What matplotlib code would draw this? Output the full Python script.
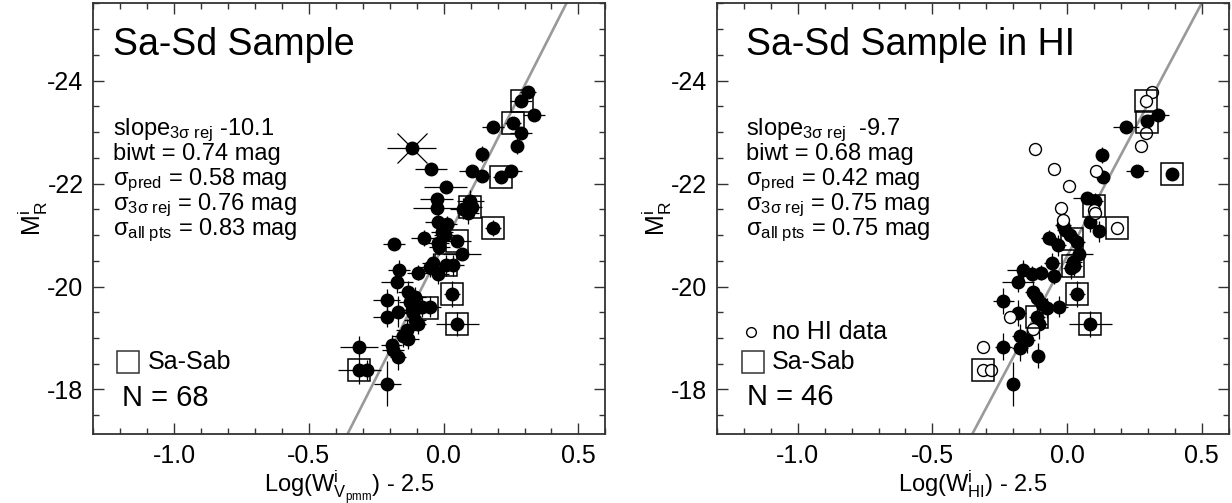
import numpy as np
import matplotlib
matplotlib.use("Agg")
import matplotlib.pyplot as plt
from matplotlib.ticker import MultipleLocator

plt.rcParams['font.family'] = ['Liberation Sans', 'DejaVu Sans']
plt.rcParams['mathtext.fontset'] = 'custom'
plt.rcParams['mathtext.rm'] = 'Liberation Sans'
plt.rcParams['mathtext.it'] = 'Liberation Sans:italic'
plt.rcParams['mathtext.bf'] = 'Liberation Sans:bold'

# ─── Left panel: Sa-Sd sample, optical widths ───────────────────────────────
L_X = [0.312, 0.287, 0.336, 0.258, 0.184, 0.287, 0.273, -0.119, 0.141, -0.047,
       0.106, 0.143, 0.250, 0.214, 0.008, -0.026, -0.024, 0.098, 0.104, 0.091,
       0.073, -0.020, 0.011, -0.007, 0.005, 0.184, -0.184, -0.072, 0.051, -0.020,
       -0.016, 0.069, -0.039, -0.051, 0.008, 0.036, -0.020, -0.096, -0.165, -0.174,
       0.030, -0.131, -0.106, -0.125, -0.211, -0.082, -0.051, -0.119, -0.113, -0.168,
       -0.211, -0.106, -0.094, 0.051, -0.137, -0.150, -0.131, -0.193, -0.187, -0.168,
       -0.313, -0.313, -0.286, -0.209]
L_Y = [-23.77, -23.61, -23.34, -23.18, -23.09, -22.99, -22.73, -22.69, -22.57, -22.29,
       -22.24, -22.14, -22.24, -22.13, -21.93, -21.69, -21.53, -21.67, -21.54, -21.42,
       -21.51, -21.25, -21.22, -21.06, -21.00, -21.14, -20.82, -20.94, -20.88, -20.84,
       -20.77, -20.64, -20.45, -20.38, -20.41, -20.41, -20.25, -20.27, -20.32, -20.08,
       -19.85, -19.90, -19.80, -19.70, -19.74, -19.61, -19.61, -19.54, -19.48, -19.51,
       -19.41, -19.35, -19.28, -19.27, -19.16, -19.03, -18.98, -18.86, -18.77, -18.64,
       -18.83, -18.37, -18.38, -18.11]
L_XERR = [0.03, 0.04, 0.04, 0.03, 0.04, 0.04, 0.02, 0.09, 0.02, 0.06,
          0.05, 0.03, 0.04, 0.03, 0.08, 0.06, 0.09, 0.05, 0.04, 0.04,
          0.05, 0.05, 0.04, 0.04, 0.04, 0.03, 0.04, 0.05, 0.05, 0.04,
          0.04, 0.07, 0.04, 0.04, 0.04, 0.04, 0.04, 0.04, 0.04, 0.06,
          0.03, 0.04, 0.04, 0.04, 0.05, 0.04, 0.04, 0.04, 0.04, 0.04,
          0.05, 0.04, 0.03, 0.08, 0.04, 0.04, 0.04, 0.04, 0.04, 0.03,
          0.07, 0.08, 0.04, 0.05]
L_YERR = [0.10, 0.10, 0.10, 0.10, 0.10, 0.10, 0.15, 0.05, 0.15, 0.10,
          0.10, 0.10, 0.10, 0.10, 0.10, 0.10, 0.10, 0.20, 0.20, 0.20,
          0.20, 0.15, 0.15, 0.15, 0.15, 0.15, 0.10, 0.15, 0.10, 0.15,
          0.15, 0.10, 0.20, 0.20, 0.20, 0.20, 0.20, 0.15, 0.20, 0.20,
          0.25, 0.20, 0.20, 0.20, 0.22, 0.20, 0.20, 0.20, 0.20, 0.30,
          0.20, 0.20, 0.20, 0.23, 0.20, 0.20, 0.20, 0.20, 0.20, 0.26,
          0.20, 0.27, 0.20, 0.44]
L_STAR = (-0.119, -22.69)          # flagged outlier
L_BOX_X = [0.290, 0.258, 0.214, 0.098, 0.184, 0.051, 0.008, 0.030, -0.063, 0.051, -0.313]
L_BOX_Y = [-23.61, -23.18, -22.13, -21.54, -21.14, -20.88, -20.41, -19.85, -19.58, -19.27, -18.37]
L_FIT = (-20.81, -10.3)            # zero point, slope of drawn line
L_STATS = ["slope$_{\\rm 3σ\\ rej}$ -10.1", "biwt = 0.74 mag", "σ$_{\\rm pred}$ = 0.58 mag",
           "σ$_{\\rm 3σ\\ rej}$ = 0.76 mag", "σ$_{\\rm all\\ pts}$ = 0.83 mag"]

# ─── Right panel: Sa-Sd sample in HI ────────────────────────────────────────
R_X = [0.337, 0.296, 0.219, 0.131, 0.259, 0.133, 0.390, 0.073, 0.104, 0.086,
       -0.014, 0.118, -0.067, -0.034, 0.011, 0.036, 0.045, -0.057, 0.014, 0.026,
       -0.164, -0.131, -0.098, -0.047, -0.181, 0.036, -0.127, -0.112, -0.094, -0.075,
       -0.028, -0.236, -0.181, -0.112, -0.103, 0.086, -0.174, -0.150, -0.174, -0.236,
       -0.106, -0.202, -0.007, 0.024]
R_Y = [-23.34, -23.21, -23.09, -22.55, -22.24, -22.13, -22.18, -21.72, -21.67, -21.25,
       -21.19, -21.07, -20.95, -20.80, -21.00, -20.87, -20.63, -20.45, -20.35, -20.40,
       -20.32, -20.25, -20.27, -20.20, -20.09, -19.85, -19.90, -19.77, -19.67, -19.58,
       -19.61, -19.72, -19.49, -19.41, -19.28, -19.27, -19.03, -18.96, -18.81, -18.83,
       -18.66, -18.11, -21.09, -20.48]
R_XERR = [0.04, 0.02, 0.05, 0.02, 0.04, 0.02, 0.02, 0.05, 0.03, 0.02,
          0.03, 0.02, 0.03, 0.03, 0.03, 0.03, 0.05, 0.03, 0.03, 0.03,
          0.06, 0.03, 0.03, 0.03, 0.06, 0.03, 0.03, 0.03, 0.03, 0.03,
          0.03, 0.04, 0.03, 0.03, 0.03, 0.08, 0.03, 0.03, 0.03, 0.03,
          0.02, 0.02, 0.03, 0.03]
R_YERR = [0.10, 0.10, 0.10, 0.15, 0.10, 0.10, 0.10, 0.10, 0.15, 0.20,
          0.15, 0.20, 0.15, 0.20, 0.15, 0.15, 0.20, 0.20, 0.20, 0.20,
          0.20, 0.15, 0.15, 0.15, 0.20, 0.25, 0.20, 0.20, 0.20, 0.20,
          0.20, 0.25, 0.25, 0.25, 0.30, 0.26, 0.25, 0.25, 0.25, 0.26,
          0.25, 0.43, 0.15, 0.20]
R_OPEN_X = [0.315, 0.292, 0.292, 0.274, -0.119, -0.047, 0.108, 0.009, -0.022, 0.102,
            0.104, -0.016, 0.185, -0.212, -0.127, -0.313, -0.313, -0.283]
R_OPEN_Y = [-23.77, -23.61, -22.98, -22.73, -22.68, -22.29, -22.24, -21.95, -21.53, -21.49,
            -21.42, -21.29, -21.13, -19.41, -19.17, -18.83, -18.37, -18.38]
R_BOX_X = [0.292, 0.296, 0.390, 0.100, 0.185, 0.020, 0.024, 0.036, -0.112, 0.086, -0.313]
R_BOX_Y = [-23.61, -23.20, -22.18, -21.56, -21.13, -20.93, -20.40, -19.85, -19.41, -19.27, -18.37]
R_FIT = (-20.59, -9.82)
R_STATS = ["slope$_{\\rm 3σ\\ rej}$  -9.7", "biwt = 0.68 mag", "σ$_{\\rm pred}$ = 0.42 mag",
           "σ$_{\\rm 3σ\\ rej}$ = 0.75 mag", "σ$_{\\rm all\\ pts}$ = 0.75 mag"]

XLIM = (-1.3, 0.6)
YLIM = (-17.13, -25.5)
FRAME = "#333333"
LINE_GRAY = "#999999"


def style_axes(ax, xlabel):
    ax.set_xlim(*XLIM)
    ax.set_ylim(*YLIM)
    ax.xaxis.set_minor_locator(MultipleLocator(0.1))
    ax.yaxis.set_minor_locator(MultipleLocator(0.5))
    ax.set_yticks([-24, -22, -20, -18])
    ax.set_yticklabels(["-24", "-22", "-20", "-18"])
    ax.set_xticks([-1.0, -0.5, 0.0, 0.5])
    ax.set_xticklabels(["-1.0", "-0.5", "0.0", "0.5"])
    ax.tick_params(which="both", direction="in", top=True, right=True,
                   labelsize=18, color=FRAME, width=1.0)
    ax.tick_params(axis="x", pad=7)
    ax.tick_params(axis="y", pad=7)
    ax.tick_params(which="major", length=8)
    ax.tick_params(which="minor", length=4.5)
    for sp in ax.spines.values():
        sp.set_color(FRAME)
        sp.set_linewidth(1.3)
    ax.set_xlabel(xlabel, fontsize=17, labelpad=0)
    ax.set_ylabel("M$_{\\rm R}^{\\rm i}$", fontsize=18, labelpad=-2)


def draw_panel(ax, x, y, xerr, yerr, box_x, box_y, fit, title, stats, title_x):
    xs = np.array(XLIM)
    ax.plot(xs, fit[0] + fit[1] * xs, color=LINE_GRAY, lw=1.9, zorder=1)
    ax.errorbar(x, y, xerr=xerr, yerr=yerr, fmt="none", ecolor="black",
                elinewidth=0.9, capsize=0, zorder=2)
    ax.plot(x, y, "o", color="black", ms=9, zorder=3)
    ax.plot(box_x, box_y, "s", mfc="none", mec="black", ms=16.5, mew=1.1, zorder=4)
    ax.text(title_x, 0.880, title, transform=ax.transAxes, fontsize=27,
            ha="left", va="baseline")
    ys = [0.694, 0.636, 0.578, 0.520, 0.462]
    for s, yy in zip(stats, ys):
        ax.text(title_x, yy, s, transform=ax.transAxes, fontsize=17,
                ha="left", va="baseline")


fig = plt.figure(figsize=(12.32, 5.03), dpi=100)
ax1 = fig.add_axes([0.0757, 0.1366, 0.4157, 0.8568])
ax2 = fig.add_axes([0.5820, 0.1366, 0.4152, 0.8568])

# left
draw_panel(ax1, L_X, L_Y, L_XERR, L_YERR, L_BOX_X, L_BOX_Y, L_FIT,
           "Sa-Sd Sample", L_STATS, 0.039)
ax1.plot([L_STAR[0]], [L_STAR[1]], "x", color="black", ms=22, mew=0.9, zorder=3)
ax1.plot([0.0685], [0.168], "s", mfc="none", mec=FRAME, ms=16.5, mew=1.1,
         transform=ax1.transAxes, clip_on=False)
ax1.text(0.106, 0.168, "Sa-Sab", transform=ax1.transAxes, fontsize=18, va="center")
ax1.text(0.0556, 0.0835, "N = 68", transform=ax1.transAxes, fontsize=21, va="center")
style_axes(ax1, "Log(W$^{\\rm i}_{\\rm V_{pmm}}$) - 2.5")

# right
draw_panel(ax2, R_X, R_Y, R_XERR, R_YERR, R_BOX_X, R_BOX_Y, R_FIT,
           "Sa-Sd Sample in HI", R_STATS, 0.056)
ax2.plot(R_OPEN_X, R_OPEN_Y, "o", mfc="white", mec="black", ms=8.6, mew=1.0, zorder=3)
ax2.plot([0.066], [0.238], "o", mfc="none", mec="black", ms=7, mew=1.0,
         transform=ax2.transAxes, clip_on=False)
ax2.text(0.107, 0.238, "no HI data", transform=ax2.transAxes, fontsize=18, va="center")
ax2.plot([0.0694], [0.168], "s", mfc="none", mec=FRAME, ms=16.5, mew=1.1,
         transform=ax2.transAxes, clip_on=False)
ax2.text(0.107, 0.168, "Sa-Sab", transform=ax2.transAxes, fontsize=18, va="center")
ax2.text(0.058, 0.087, "N = 46", transform=ax2.transAxes, fontsize=21, va="center")
style_axes(ax2, "Log(W$^{\\rm i}_{\\rm HI}$) - 2.5")

fig.savefig("out.png", dpi=100)
